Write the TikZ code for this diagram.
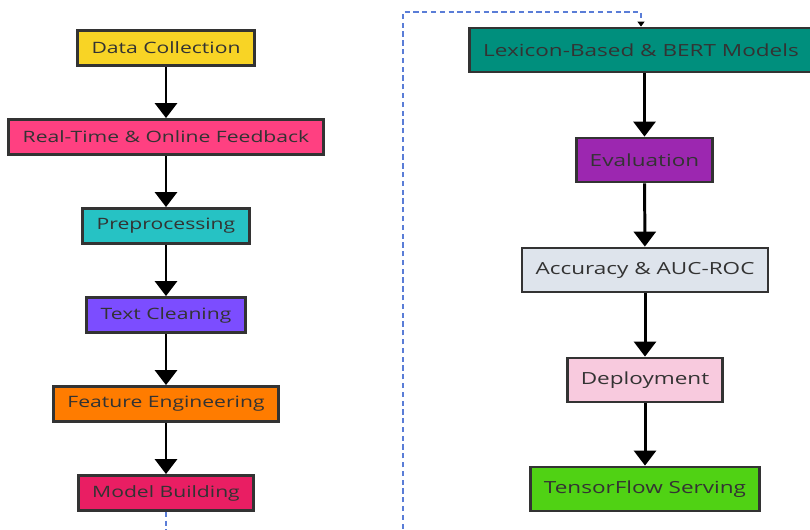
\documentclass[tikz,border=0pt]{standalone}
\usepackage{fontspec}
\setmainfont[FakeStretch=1.35]{Open Sans}
\usetikzlibrary{arrows.meta}

\definecolor{cdata}{RGB}{248,212,37}
\definecolor{creal}{RGB}{255,64,129}
\definecolor{cpre}{RGB}{38,194,196}
\definecolor{cclean}{RGB}{124,77,255}
\definecolor{cfeat}{RGB}{255,124,0}
\definecolor{cmodel}{RGB}{233,30,99}
\definecolor{clex}{RGB}{0,143,125}
\definecolor{ceval}{RGB}{156,39,176}
\definecolor{cacc}{RGB}{222,228,236}
\definecolor{cdep}{RGB}{248,202,222}
\definecolor{ctf}{RGB}{80,210,20}
\definecolor{cdash}{RGB}{90,125,215}
\definecolor{cline}{RGB}{51,51,51}

\tikzset{
  stage/.style={draw=cline, line width=1.6pt, text=cline, inner xsep=0.28cm,
    minimum height=0.7cm, font=\fontsize{8.9}{11}\selectfont},
  bigstage/.style={stage, minimum height=0.88cm, inner xsep=0.27cm,
    font=\fontsize{9.5}{12}\selectfont},
  flow/.style={line width=1.7pt, -{Triangle[width=0.44cm,length=0.3cm]}}
}

\begin{document}
\begin{tikzpicture}
  \useasboundingbox (0,0) rectangle (16.2,-10.6);
  % left column
  \node[stage, fill=cdata]  (data)  at (3.32,-0.96) {Data Collection};
  \node[stage, fill=creal]  (real)  at (3.32,-2.74) {Real-Time \& Online Feedback};
  \node[stage, fill=cpre]   (pre)   at (3.32,-4.52) {Preprocessing};
  \node[stage, fill=cclean] (clean) at (3.32,-6.30) {Text Cleaning};
  \node[stage, fill=cfeat]  (feat)  at (3.32,-8.08) {Feature Engineering};
  \node[stage, fill=cmodel] (model) at (3.32,-9.86) {Model Building};
  % right column
  \node[bigstage, fill=clex]  (lex)  at (12.82,-1.00) {Lexicon-Based \& BERT Models};
  \node[bigstage, fill=ceval] (eval) at (12.89,-3.20) {Evaluation};
  \node[bigstage, fill=cacc]  (acc)  at (12.90,-5.40) {Accuracy \& AUC-ROC};
  \node[bigstage, fill=cdep]  (dep)  at (12.90,-7.60) {Deployment};
  \node[bigstage, fill=ctf]   (tf)   at (12.90,-9.78) {TensorFlow Serving};

  \draw[flow] (data) -- (real);
  \draw[flow] (real) -- (pre);
  \draw[flow] (pre) -- (clean);
  \draw[flow] (clean) -- (feat);
  \draw[flow] (feat) -- (model);
  \draw[flow] (lex.south -| eval.north) -- (eval);
  \draw[flow] (eval) -- (acc);
  \draw[flow] (acc) -- (dep);
  \draw[flow] (dep) -- (tf);

  % link between the two columns
  \coordinate (low) at (3.32,-11.2);
  \coordinate (up) at (8.06,-0.24);
  \draw[cdash, densely dashed, line width=0.6pt,
    -{Triangle[width=0.14cm,length=0.1cm,color=black]}]
    (model.south) -- (low) -| (up) -| (lex.north);
\end{tikzpicture}
\end{document}
